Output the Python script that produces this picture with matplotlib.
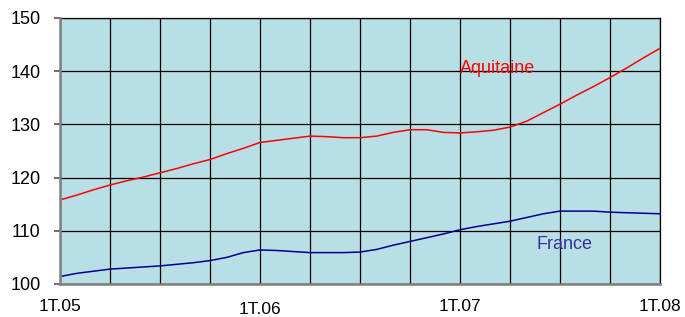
import matplotlib
matplotlib.use('Agg')
import matplotlib.pyplot as plt
import numpy as np

# Monthly index values, 1T.05 -> 1T.08
aquitaine = [115.8, 116.7, 117.7, 118.6, 119.4, 120.1, 120.9, 121.7, 122.6, 123.4,
             124.5, 125.5, 126.6, 127.0, 127.4, 127.8, 127.7, 127.5, 127.5, 127.8,
             128.5, 129.0, 129.0, 128.5, 128.4, 128.6, 128.9, 129.5, 130.6, 132.2,
             133.8, 135.5, 137.1, 138.8, 140.6, 142.5, 144.3]
france = [101.4, 102.0, 102.4, 102.8, 103.0, 103.2, 103.4, 103.7, 104.0, 104.4,
          105.0, 105.9, 106.4, 106.3, 106.1, 105.9, 105.9, 105.9, 106.0, 106.5,
          107.3, 108.0, 108.7, 109.4, 110.2, 110.8, 111.3, 111.8, 112.5, 113.2,
          113.7, 113.7, 113.7, 113.5, 113.4, 113.3, 113.2]
tick_labels = ['1T.05', '1T.06', '1T.07', '1T.08']
y_ticks = [100, 110, 120, 130, 140, 150]

plt.rcParams['font.family'] = ['Liberation Sans', 'DejaVu Sans']

fig = plt.figure(figsize=(6.85, 3.17), dpi=100)
ax = fig.add_axes([60 / 685, 33 / 317, 600 / 685, 266 / 317])
ax.set_facecolor('#b8dfe5')

months = np.arange(len(aquitaine))
ax.plot(months, aquitaine, color='#ff0000', lw=1.1, zorder=3)
ax.plot(months, france, color='#000090', lw=1.1, zorder=3)

ax.set_xlim(0, 36)
ax.set_ylim(100, 150)

# quarterly grid
ax.set_xticks(np.arange(0, 37, 3), minor=True)
ax.set_xticks([0, 12, 24, 36])
ax.set_xticklabels(tick_labels, fontsize=12.5)
ax.set_yticks(y_ticks)
ax.set_yticklabels([str(v) for v in y_ticks], fontsize=13)
ax.grid(True, which='both', color='black', lw=0.9, zorder=1)
ax.set_axisbelow(True)

ax.tick_params(axis='x', which='both', length=0, pad=10.5)
ax.tick_params(axis='y', length=4, width=1.2, color='#555555', pad=10)

# 1T.06 sits a bit lower in the original
ax.get_xticklabels()[1].set_y(-0.012)

for side in ['left', 'bottom']:
    ax.spines[side].set_color('#808080')
    ax.spines[side].set_linewidth(1.8)
    ax.spines[side].set_zorder(4)
for side in ['top', 'right']:
    ax.spines[side].set_color('black')
    ax.spines[side].set_linewidth(0.9)

ax.text(24.0, 140.6, 'Aquitaine', color='#ff0000', fontsize=13, va='center')
ax.text(28.6, 107.5, 'France', color='#333399', fontsize=13, va='center')

fig.savefig('out.png', dpi=100)
